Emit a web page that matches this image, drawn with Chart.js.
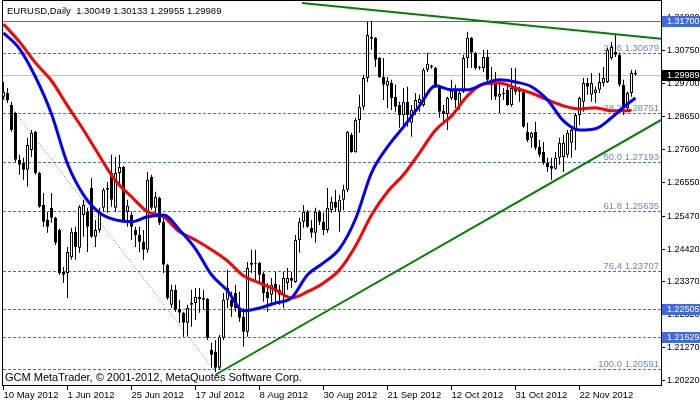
<!DOCTYPE html>
<html>
<head>
<meta charset="utf-8">
<script src="https://cdn.jsdelivr.net/npm/chart.js@4.4.0/dist/chart.umd.min.js"></script>
<style>
html, body { margin: 0; padding: 0; background: #fff; }
</style>
</head>
<body>
<canvas id="chart" width="700" height="402"></canvas>
<script>
// EURUSD daily, 10 May 2012 .. mid Dec 2012, one entry per bar
var opens = [1.2928,1.2940,1.2902,1.2876,1.2727,1.2717,1.2695,1.2758,1.2816,1.2685,1.2583,1.2535,1.2574,1.2542,1.2503,1.2369,1.2366,1.2417,1.2497,1.2446,
  1.2551,1.2561,1.2637,1.2481,1.2503,1.2574,1.2631,1.2685,1.2574,1.2685,1.2704,1.2561,1.2551,1.2503,1.2487,1.2465,1.2440,1.2672,1.2574,1.2605,
  1.2529,1.2392,1.2264,1.2312,1.2251,1.2239,1.2207,1.2264,1.2270,1.2290,1.2280,1.2283,1.2121,1.2114,1.2063,1.2159,1.2280,1.2280,1.2302,1.2254,
  1.2226,1.2178,1.2392,1.2395,1.2398,1.2363,1.2306,1.2296,1.2331,1.2312,1.2296,1.2334,1.2350,1.2337,1.2471,1.2529,1.2561,1.2510,1.2494,1.2561,
  1.2529,1.2503,1.2567,1.2593,1.2561,1.2599,1.2631,1.2806,1.2752,1.2854,1.2896,1.2988,1.3119,1.3116,1.3052,1.2991,1.2963,1.2972,1.2928,1.2902,
  1.2870,1.2912,1.2845,1.2880,1.2908,1.2902,1.3014,1.3023,1.3020,1.2960,1.2883,1.2873,1.2924,1.2947,1.2902,1.2944,1.3052,1.3116,1.3068,1.3020,
  1.3020,1.3055,1.2982,1.2975,1.2928,1.2937,1.2950,1.2902,1.2956,1.2944,1.2944,1.2816,1.2797,1.2816,1.2768,1.2752,1.2717,1.2707,1.2698,1.2733,
  1.2736,1.2743,1.2781,1.2822,1.2870,1.2912,1.2972,1.2934,1.2940,1.2950,1.2972,1.2975,1.3052,1.3071,1.3062,1.2966,1.2892,1.2940,1.30049];
var highs = [1.2975,1.2956,1.2912,1.2880,1.2743,1.2733,1.2797,1.2822,1.2819,1.2688,1.2621,1.2561,1.2621,1.2545,1.2507,1.2385,1.2449,1.2510,1.2513,1.2583,
  1.2599,1.2574,1.2669,1.2535,1.2574,1.2637,1.2656,1.2743,1.2736,1.2743,1.2707,1.2599,1.2561,1.2513,1.2513,1.2503,1.2688,1.2679,1.2625,1.2609,
  1.2545,1.2395,1.2328,1.2328,1.2280,1.2242,1.2264,1.2312,1.2318,1.2318,1.2312,1.2286,1.2143,1.2152,1.2168,1.2302,1.2376,1.2306,1.2328,1.2306,
  1.2254,1.2401,1.2440,1.2440,1.2401,1.2369,1.2334,1.2350,1.2369,1.2328,1.2369,1.2382,1.2369,1.2487,1.2542,1.2583,1.2567,1.2535,1.2574,1.2567,
  1.2558,1.2637,1.2609,1.2631,1.2615,1.2647,1.2819,1.2813,1.2861,1.2934,1.2998,1.3167,1.3170,1.3119,1.3055,1.3052,1.2991,1.2982,1.2966,1.2912,
  1.2956,1.2960,1.2902,1.2940,1.2934,1.3020,1.3068,1.3030,1.3023,1.2966,1.2902,1.2928,1.2982,1.2966,1.2950,1.3062,1.3135,1.3119,1.3071,1.3026,
  1.3078,1.3078,1.3023,1.3007,1.2982,1.2956,1.2966,1.3020,1.3020,1.2960,1.2950,1.2845,1.2816,1.2848,1.2790,1.2784,1.2733,1.2733,1.2752,1.2797,
  1.2806,1.2822,1.2832,1.2876,1.2928,1.2988,1.2988,1.3004,1.2960,1.3004,1.3023,1.3084,1.3103,1.3125,1.3068,1.2982,1.2944,1.3014,1.30133];
var lows = [1.2918,1.2908,1.2816,1.2720,1.2679,1.2663,1.2641,1.2736,1.2679,1.2574,1.2513,1.2494,1.2526,1.2455,1.2360,1.2334,1.2286,1.2408,1.2408,1.2430,
  1.2481,1.2433,1.2478,1.2449,1.2494,1.2561,1.2558,1.2577,1.2561,1.2641,1.2529,1.2513,1.2471,1.2449,1.2433,1.2408,1.2430,1.2567,1.2545,1.2519,
  1.2366,1.2280,1.2254,1.2242,1.2207,1.2162,1.2162,1.2194,1.2216,1.2239,1.2248,1.2152,1.2063,1.2050,1.2057,1.2152,1.2254,1.2226,1.2242,1.2210,
  1.2130,1.2162,1.2366,1.2337,1.2337,1.2274,1.2242,1.2264,1.2274,1.2264,1.2254,1.2312,1.2318,1.2334,1.2430,1.2510,1.2510,1.2478,1.2462,1.2519,
  1.2487,1.2494,1.2558,1.2561,1.2497,1.2567,1.2625,1.2749,1.2749,1.2813,1.2886,1.2975,1.3078,1.3023,1.2988,1.2918,1.2892,1.2886,1.2880,1.2829,
  1.2829,1.2832,1.2800,1.2870,1.2880,1.2896,1.3007,1.3017,1.2956,1.2861,1.2848,1.2822,1.2918,1.2892,1.2886,1.2940,1.3020,1.3020,1.3014,1.3014,
  1.3007,1.2972,1.2918,1.2918,1.2876,1.2918,1.2899,1.2896,1.2934,1.2912,1.2829,1.2784,1.2765,1.2758,1.2736,1.2711,1.2688,1.2663,1.2695,1.2711,
  1.2688,1.2733,1.2733,1.2758,1.2838,1.2880,1.2934,1.2912,1.2908,1.2940,1.2960,1.2972,1.3046,1.3055,1.2960,1.2870,1.2886,1.2928,1.29955];
var closes = [1.2944,1.2918,1.2822,1.2727,1.2711,1.2695,1.2774,1.2813,1.2685,1.2577,1.2529,1.2513,1.2542,1.2462,1.2366,1.2360,1.2433,1.2497,1.2449,1.2577,
  1.2583,1.2513,1.2481,1.2503,1.2558,1.2631,1.2637,1.2599,1.2685,1.2704,1.2535,1.2580,1.2513,1.2487,1.2465,1.2440,1.2663,1.2574,1.2609,1.2526,
  1.2392,1.2286,1.2312,1.2248,1.2239,1.2207,1.2254,1.2270,1.2290,1.2283,1.2286,1.2159,1.2105,1.2063,1.2162,1.2280,1.2318,1.2258,1.2254,1.2223,
  1.2178,1.2382,1.2398,1.2398,1.2360,1.2302,1.2286,1.2328,1.2306,1.2296,1.2350,1.2350,1.2341,1.2471,1.2529,1.2561,1.2513,1.2494,1.2561,1.2529,
  1.2503,1.2574,1.2593,1.2574,1.2599,1.2631,1.2816,1.2752,1.2854,1.2896,1.2988,1.3125,1.3113,1.3046,1.2991,1.2966,1.2979,1.2924,1.2896,1.2870,
  1.2912,1.2870,1.2886,1.2918,1.2921,1.3014,1.3033,1.3024,1.2960,1.2880,1.2873,1.2924,1.2947,1.2918,1.2940,1.3052,1.3116,1.3068,1.3020,1.3019,
  1.3055,1.2982,1.2966,1.2928,1.2937,1.2940,1.2902,1.2956,1.2944,1.2950,1.2832,1.2790,1.2813,1.2765,1.2743,1.2717,1.2704,1.2698,1.2733,1.2781,
  1.2781,1.2813,1.2822,1.2870,1.2924,1.2972,1.2960,1.2972,1.2950,1.2975,1.2988,1.3078,1.3087,1.3062,1.2966,1.2892,1.2940,1.3004,1.29989];

// moving averages (bar index / price)
var blueIdx = [0,4,8,12,16,20,24,28,32,36,40,44,48,52,56,60,64,68,72,76,80,84,88,92,96,100,104,108,112,116,120,124,128,132,136,140,144,148,152,156,158];
var blueMA = [1.3132,1.3081,1.2991,1.2873,1.2714,1.2615,1.2558,1.2535,1.2529,1.2545,1.2551,1.2503,1.2443,1.2360,1.2309,1.2245,1.2254,1.2270,1.2286,1.2360,
  1.2398,1.2443,1.2538,1.2685,1.2768,1.2832,1.2899,1.2963,1.2950,1.2950,1.2969,1.2982,1.2975,1.2960,1.2918,1.2851,1.2822,1.2826,1.2861,1.2905,1.2924];
var redIdx = [0,4,8,12,16,20,24,28,32,36,40,44,48,52,56,60,64,68,72,76,80,84,88,92,96,100,104,108,112,116,120,124,128,132,136,140,144,148,152,156,157];
var redMA = [1.3160,1.3103,1.3036,1.2979,1.2899,1.2822,1.2739,1.2660,1.2609,1.2561,1.2545,1.2497,1.2471,1.2440,1.2404,1.2357,1.2334,1.2312,1.2286,1.2306,
  1.2334,1.2376,1.2452,1.2551,1.2625,1.2679,1.2749,1.2822,1.2867,1.2931,1.2969,1.2972,1.2956,1.2940,1.2918,1.2899,1.2889,1.2893,1.2883,1.2883,1.2886];

// drawn objects
var trendUpIdx = [53, 164.4], trendUpPrice = [1.2041, 1.2854];
var trendDownIdx = [74.6, 164.4], trendDownPrice = [1.3227, 1.3113];
var fibLineIdx = [-27.5, 52.5], fibLinePrice = [1.33795, 1.20591];
var fibNames = ['23.6', '38.2', '50.0', '61.8', '76,4', '100.0'];
var fibPrices = [1.30679, 1.28751, 1.27193, 1.25635, 1.23707, 1.20591];
var supportLines = [1.22505, 1.21629];
var resistance = 1.317;
var lastBar = [1.30049, 1.30133, 1.29955, 1.29989];

var tickLabels = ['10 May 2012', '1 Jun 2012', '25 Jun 2012', '17 Jul 2012', '8 Aug 2012', '30 Aug 2012',
  '21 Sep 2012', '12 Oct 2012', '31 Oct 2012', '22 Nov 2012'];
var yTicks = [1.20220, 1.21270, 1.22320, 1.23370, 1.24420, 1.25470, 1.26550, 1.27600, 1.28650, 1.29700, 1.30750, 1.31820];

var FONT = '"Liberation Sans", Arial, sans-serif';
var LEVEL_BLUE = '#4169e1';

var idx = opens.map(function (_, i) { return i; });
function pts(xs, ys) { return xs.map(function (x, k) { return {x: x, y: ys[k]}; }); }

var overlay = {
    id: 'overlay',
    beforeDatasetsDraw: function (chart) {
        var ctx = chart.ctx, a = chart.chartArea, y = chart.scales.y;
        ctx.save();
        ctx.beginPath();
        ctx.rect(a.left, a.top, a.right - a.left, a.bottom - a.top);
        ctx.clip();
        var hline = function (p, color, dash) {
            var py = Math.round(y.getPixelForValue(p)) + 0.5;
            ctx.strokeStyle = color;
            ctx.lineWidth = 1;
            ctx.setLineDash(dash);
            ctx.beginPath();
            ctx.moveTo(a.left, py);
            ctx.lineTo(a.right, py);
            ctx.stroke();
            return py;
        };
        hline(lastBar[3], '#c0c0c0', []);
        hline(resistance, LEVEL_BLUE, []);
        supportLines.forEach(function (p) { hline(p, LEVEL_BLUE, [3, 2]); });
        ctx.font = '9.5px ' + FONT;
        ctx.textAlign = 'right';
        ctx.textBaseline = 'alphabetic';
        fibPrices.forEach(function (p, k) {
            var py = hline(p, LEVEL_BLUE, [3, 2]);
            ctx.fillStyle = '#6b84e6';
            ctx.fillText(fibNames[k] + ' ' + p.toFixed(5), a.right - 2, py - 2.5);
        });
        ctx.restore();
    },
    afterDraw: function (chart) {
        var ctx = chart.ctx, a = chart.chartArea, y = chart.scales.y;
        ctx.save();
        ctx.strokeStyle = '#000';
        ctx.lineWidth = 1;
        ctx.strokeRect(a.left - 0.5, a.top - 0.5, a.right - a.left + 1, a.bottom - a.top + 1);

        ctx.fillStyle = '#000';
        ctx.textAlign = 'left';
        ctx.textBaseline = 'alphabetic';
        ctx.font = '9.5px ' + FONT;
        ctx.fillText('EURUSD,Daily  ' + lastBar.map(function (v) { return v.toFixed(5); }).join(' '), 7, 14);
        ctx.font = '11px ' + FONT;
        ctx.fillText('GCM MetaTrader, \u00a9 2001-2012, MetaQuotes Software Corp.', 5, 381);

        // price boxes on the axis
        var box = function (p, bg) {
            var py = Math.round(y.getPixelForValue(p));
            ctx.fillStyle = bg;
            ctx.fillRect(a.right + 1, py - 5, 700 - a.right - 1, 11);
            ctx.fillStyle = '#fff';
            ctx.font = '9px ' + FONT;
            ctx.textBaseline = 'middle';
            ctx.fillText(p.toFixed(5), a.right + 6, py + 0.5);
        };
        box(resistance, LEVEL_BLUE);
        supportLines.forEach(function (p) { box(p, LEVEL_BLUE); });
        box(lastBar[3], '#000');
        ctx.restore();
    }
};

new Chart(document.getElementById('chart'), {
    type: 'bar',
    data: {
        datasets: [
            {type: 'line', label: 'MA fast', data: pts(blueIdx, blueMA), borderColor: '#0000ff', borderWidth: 3,
                pointRadius: 0, cubicInterpolationMode: 'monotone', order: 0},
            {type: 'line', label: 'MA slow', data: pts(redIdx, redMA), borderColor: '#ff0000', borderWidth: 3,
                pointRadius: 0, cubicInterpolationMode: 'monotone', order: 0},
            {type: 'line', label: 'trend up', data: pts(trendUpIdx, trendUpPrice), borderColor: '#008000', borderWidth: 2,
                pointRadius: 0, order: 0},
            {type: 'line', label: 'trend down', data: pts(trendDownIdx, trendDownPrice), borderColor: '#008000', borderWidth: 2,
                pointRadius: 0, order: 0},
            {type: 'line', label: 'fibo', data: pts(fibLineIdx, fibLinePrice), borderColor: LEVEL_BLUE, borderWidth: 1,
                borderDash: [1, 2], pointRadius: 0, order: 3},
            {type: 'bar', label: 'bodies', data: idx.map(function (i) { return {x: i, y: [opens[i], closes[i]]}; }),
                backgroundColor: idx.map(function (i) { return closes[i] >= opens[i] ? '#ffffff' : '#000000'; }),
                borderColor: '#000', borderWidth: 1, borderSkipped: false, inflateAmount: 0,
                barThickness: 3, minBarLength: 1, grouped: false, order: 1},
            {type: 'bar', label: 'wicks', data: idx.map(function (i) { return {x: i, y: [lows[i], highs[i]]}; }),
                backgroundColor: '#000', borderWidth: 0, inflateAmount: 0,
                barThickness: 1, grouped: false, order: 2}
        ]
    },
    options: {
        responsive: false,
        animation: false,
        devicePixelRatio: 1,
        layout: {padding: {left: 3, top: 1, right: 0, bottom: 0}},
        plugins: {legend: {display: false}, tooltip: {enabled: false}},
        scales: {
            x: {
                type: 'linear', min: -0.125, max: 164.375, offset: false,
                afterBuildTicks: function (s) { s.ticks = tickLabels.map(function (_, k) { return {value: k * 16}; }); },
                afterFit: function (s) { s.height = 17; s.paddingLeft = 0; s.paddingRight = 0; },
                grid: {drawOnChartArea: false, drawTicks: true, tickLength: 5, tickColor: '#000', offset: false},
                border: {display: false},
                ticks: {
                    align: 'start', padding: 0, color: '#000', maxRotation: 0, autoSkip: false,
                    font: {family: FONT, size: 9.5},
                    callback: function (v) { return tickLabels[Math.round(v / 16)] || ''; }
                }
            },
            y: {
                position: 'right', min: 1.20083, max: 1.32335,
                afterBuildTicks: function (s) { s.ticks = yTicks.map(function (v) { return {value: v}; }); },
                afterFit: function (s) { s.width = 39; s.paddingTop = 0; s.paddingBottom = 0; },
                grid: {drawOnChartArea: false, drawTicks: true, tickLength: 4, tickColor: '#000'},
                border: {display: false},
                ticks: {
                    padding: 2, color: '#000', autoSkip: false,
                    font: {family: FONT, size: 9},
                    callback: function (v) { return v.toFixed(5); }
                }
            }
        }
    },
    plugins: [overlay]
});
</script>
</body>
</html>
